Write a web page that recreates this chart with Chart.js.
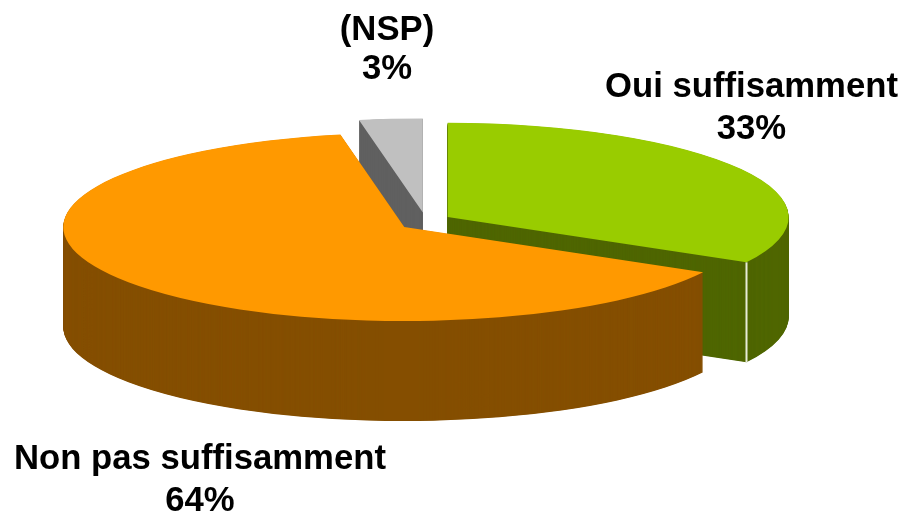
<!DOCTYPE html>
<html><head><meta charset="utf-8">
<style>html,body{margin:0;padding:0;background:#fff}#wrap{position:relative;width:902px;height:514px}</style>
<script src="https://cdn.jsdelivr.net/npm/chart.js@4"></script>
</head><body><div id="wrap"><canvas id="c" width="902" height="514"></canvas></div>
<script>
const categories = ['Oui suffisamment', 'Non pas suffisamment', '(NSP)'];
const values = [33, 64, 3];
const topColors = ['#99CC00', '#FF9900', '#C0C0C0'];
const wallColors = ['#4F6600', '#854F00', '#606060'];
const labelAnchors = [[751.5, 97, 139], [200, 469, 511], [387, 40, 79]];

const SQUASH = 0.276, DEPTH = 100, CX = 425.3, CY = 221.6, RADIUS = 341, EXPLODE = 26, EXPLODE_Y = 1.27;
const tilt = {
  id: 'tilt',
  afterDatasetsUpdate(chart) {
    // explode each slice along its own mid-angle, a little more vertically (reference's perspective)
    chart.getDatasetMeta(0).data.forEach(arc => {
      const mid = (arc.startAngle + arc.endAngle) / 2;
      arc.x += Math.cos(mid) * EXPLODE;
      arc.y += Math.sin(mid) * EXPLODE * EXPLODE_Y;
    });
  },
  beforeDatasetsDraw(chart) {
    const ctx = chart.ctx, a = chart.chartArea;
    const mx = (a.left + a.right) / 2, my = (a.top + a.bottom) / 2;
    ctx.save();
    ctx.translate(CX, CY);
    ctx.scale(1, SQUASH);
    ctx.translate(-mx, -my);
    const arcs = chart.getDatasetMeta(0).data;
    const wall = i => {
      const ghost = Object.create(arcs[i]);
      ghost.options = Object.assign({}, arcs[i].options, {backgroundColor: wallColors[i]});
      for (let d = DEPTH; d >= 0.5; d -= 0.5) {
        ctx.save();
        ctx.translate(0, d / SQUASH);
        ghost.draw(ctx);
        ctx.restore();
      }
    };
    wall(2);
    wall(0);
    // pale seam where the green slice's cut face meets its rim
    const g = arcs[0];
    const ex = g.x + Math.cos(g.endAngle) * g.outerRadius;
    const ey = g.y + Math.sin(g.endAngle) * g.outerRadius;
    ctx.fillStyle = '#E8EBD8';
    ctx.fillRect(ex - 1, ey, 2, DEPTH / SQUASH);
    wall(1);
  },
  afterDatasetsDraw(chart) {
    chart.ctx.restore();
    const ctx = chart.ctx;
    ctx.save();
    ctx.fillStyle = '#000';
    ctx.font = 'bold 34.7px "Liberation Sans", Arial, sans-serif';
    ctx.textAlign = 'center';
    ctx.textBaseline = 'alphabetic';
    categories.forEach((c, i) => {
      const p = labelAnchors[i];
      ctx.fillText(c, p[0], p[1]);
      ctx.fillText(values[i] + '%', p[0], p[2]);
    });
    ctx.restore();
  }
};
new Chart(document.getElementById('c'), {
  type: 'pie',
  data: {labels: categories, datasets: [{
    data: values, backgroundColor: topColors, borderWidth: 0, offset: 0, clip: false
  }]},
  options: {
    responsive: false, animation: false, radius: RADIUS,
    layout: {padding: 0},
    plugins: {legend: {display: false}, tooltip: {enabled: false}}
  },
  plugins: [tilt]
});
</script></body></html>
